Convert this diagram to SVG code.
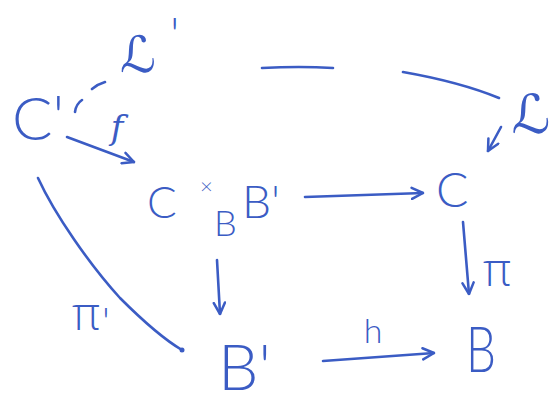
<svg xmlns="http://www.w3.org/2000/svg" width="556" height="406" viewBox="0 0 556 406">
<defs>
<style>
.ink{fill:none;stroke:#3b5cc4;stroke-width:2.6;stroke-linecap:round;stroke-linejoin:round}
.t{fill:#3b5cc4;font-family:Lato,"Liberation Sans",sans-serif;font-weight:300}
.s{fill:#3b5cc4;font-family:"DejaVu Serif","DejaVu Sans",serif}
.g{fill:#3b5cc4;font-family:"Open Sans","Noto Sans",sans-serif;font-weight:300}
</style>
<marker id="ah" viewBox="0 0 10 10" refX="9" refY="5" markerWidth="14" markerHeight="14" markerUnits="userSpaceOnUse" orient="auto">
<path d="M1,1 L9,5 L1,9" fill="none" stroke="#3b5cc4" stroke-width="1.8" stroke-linecap="round" stroke-linejoin="round"/>
</marker>
</defs>
<rect width="556" height="406" fill="#ffffff"/>
<g id="connectors">
<path class="ink" d="M67,137 L134,162" marker-end="url(#ah)"/>
<path class="ink" d="M305,197 L423,193" marker-end="url(#ah)"/>
<path class="ink" d="M217,260 L220,314" marker-end="url(#ah)"/>
<path class="ink" d="M463,222 L469,294" marker-end="url(#ah)"/>
<path class="ink" d="M323,361 L434,353" marker-end="url(#ah)"/>
<path class="ink" d="M38,178 C55,215 90,265 120,298 C145,323 165,340 182,350"/>
<circle cx="182" cy="350" r="2.5" fill="#3b5cc4"/>
<path class="ink" d="M75,112 Q76,104 82,100 M92,89 Q98,84 105,82 M262,68 Q300,66 333,68 M403,72 Q460,82 499,98"/>
<path class="ink" d="M501,127 L488,151" marker-end="url(#ah)"/>
<text class="s" x="117" y="139" font-size="34" font-style="italic" text-anchor="middle">f</text>
<text class="s" x="120" y="72" font-size="50">ℒ</text>
<text class="t" x="170" y="52" font-size="48">'</text>
<text class="s" x="531" y="133" font-size="54" text-anchor="middle">ℒ</text>
<text class="g" x="497" y="286" font-size="46" text-anchor="middle">π</text>
<text class="g" x="72" y="330" font-size="46">π</text>
<text class="t" x="102" y="336" font-size="40">'</text>
<text class="t" x="373" y="343" font-size="34" text-anchor="middle">h</text>
</g>
<g id="n-Cprime">
<text class="t" x="12" y="140" font-size="60">C<tspan dy="-2">'</tspan></text>
</g>
<g id="n-fiber-product">
<text class="t" x="147" y="218" font-size="44">C</text>
<text class="t" x="200" y="194" font-size="22">×</text>
<text class="t" x="214" y="236" font-size="36">B</text>
<text class="t" x="242" y="218" font-size="46">B'</text>
</g>
<g id="n-C">
<text class="t" x="436" y="207" font-size="48">C</text>
</g>
<g id="n-Bprime">
<text class="t" x="218" y="390" font-size="64">B'</text>
</g>
<g id="n-B">
<text class="t" x="466" y="372" font-size="64" textLength="30" lengthAdjust="spacingAndGlyphs">B</text>
</g>
</svg>
